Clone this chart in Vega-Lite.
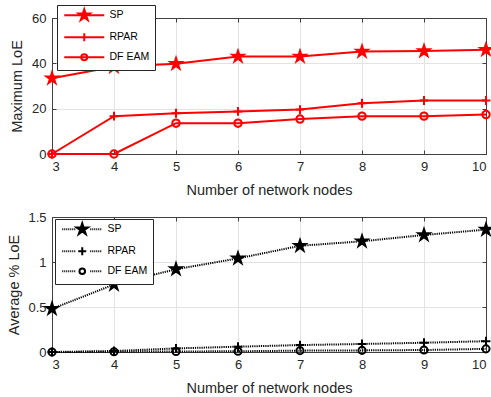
{
  "$schema": "https://vega.github.io/schema/vega-lite/v6.json",
  "padding": {"left": 6, "top": 4, "right": 5, "bottom": 0},
  "spacing": 14,
  "datasets": {
    "d": [
      {"n": 3, "series": "SP", "maxloe": 33.4, "avgloe": 0.48},
      {"n": 4, "series": "SP", "maxloe": 38.5, "avgloe": 0.75},
      {"n": 5, "series": "SP", "maxloe": 39.8, "avgloe": 0.92},
      {"n": 6, "series": "SP", "maxloe": 43.0, "avgloe": 1.04},
      {"n": 7, "series": "SP", "maxloe": 43.0, "avgloe": 1.18},
      {"n": 8, "series": "SP", "maxloe": 45.2, "avgloe": 1.23},
      {"n": 9, "series": "SP", "maxloe": 45.4, "avgloe": 1.30},
      {"n": 10, "series": "SP", "maxloe": 46.0, "avgloe": 1.36},
      {"n": 3, "series": "RPAR", "maxloe": 0, "avgloe": 0},
      {"n": 4, "series": "RPAR", "maxloe": 16.7, "avgloe": 0.011},
      {"n": 5, "series": "RPAR", "maxloe": 18.0, "avgloe": 0.04},
      {"n": 6, "series": "RPAR", "maxloe": 18.8, "avgloe": 0.059},
      {"n": 7, "series": "RPAR", "maxloe": 19.6, "avgloe": 0.077},
      {"n": 8, "series": "RPAR", "maxloe": 22.4, "avgloe": 0.089},
      {"n": 9, "series": "RPAR", "maxloe": 23.6, "avgloe": 0.103},
      {"n": 10, "series": "RPAR", "maxloe": 23.6, "avgloe": 0.12},
      {"n": 3, "series": "DF EAM", "maxloe": 0, "avgloe": 0},
      {"n": 4, "series": "DF EAM", "maxloe": 0, "avgloe": 0.003},
      {"n": 5, "series": "DF EAM", "maxloe": 13.6, "avgloe": 0.006},
      {"n": 6, "series": "DF EAM", "maxloe": 13.6, "avgloe": 0.008},
      {"n": 7, "series": "DF EAM", "maxloe": 15.4, "avgloe": 0.015},
      {"n": 8, "series": "DF EAM", "maxloe": 16.7, "avgloe": 0.018},
      {"n": 9, "series": "DF EAM", "maxloe": 16.7, "avgloe": 0.022},
      {"n": 10, "series": "DF EAM", "maxloe": 17.4, "avgloe": 0.035}
    ]
  },
  "config": {
    "font": "Liberation Sans",
    "view": {"stroke": null},
    "axis": {
      "labelFont": "Liberation Sans",
      "labelFontSize": 13,
      "labelColor": "#262626",
      "titleFont": "Liberation Sans",
      "titleFontSize": 14.5,
      "titleFontWeight": "normal",
      "titleColor": "#262626",
      "domainColor": "#404040",
      "tickColor": "#404040",
      "tickSize": -4,
      "gridColor": "#e3e3e3",
      "gridWidth": 1
    },
    "legend": {
      "labelFont": "Liberation Sans",
      "labelFontSize": 10.5,
      "labelColor": "#000000",
      "strokeColor": "#262626",
      "fillColor": "#ffffff",
      "padding": 5,
      "symbolSize": 64,
      "symbolOffset": 17,
      "labelOffset": 20,
      "rowPadding": 4,
      "symbolStrokeWidth": 2,
      "symbolOpacity": 1
    }
  },
  "resolve": {"scale": {"shape": "independent", "fill": "independent"}, "legend": {"shape": "independent", "fill": "independent"}},
  "vconcat": [
    {
      "width": 434,
      "height": 136,
      "data": {"name": "d"},
      "layer": [
        {
          "mark": {"type": "line", "color": "#ff0000", "strokeWidth": 2},
          "encoding": {
            "x": {"field": "n", "type": "quantitative", "scale": {"domain": [3, 10], "nice": false},
                  "axis": {"orient": "bottom", "values": [3, 4, 5, 6, 7, 8, 9, 10], "format": "d", "title": "Number of network nodes", "grid": true, "labelPadding": 10, "titlePadding": 10}},
            "y": {"field": "maxloe", "type": "quantitative", "scale": {"domain": [0, 60], "nice": false},
                  "axis": {"orient": "left", "values": [0, 20, 40, 60], "format": "d", "title": "Maximum LoE", "grid": true, "labelPadding": 10, "titlePadding": 7}},
            "detail": {"field": "series"}
          }
        },
        {
          "mark": {"type": "point", "stroke": "#ff0000", "strokeWidth": 2, "size": 140, "opacity": 1},
          "encoding": {
            "x": {"field": "n", "type": "quantitative",
                  "axis": {"orient": "top", "values": [3, 4, 5, 6, 7, 8, 9, 10], "labels": false, "title": null, "grid": false}},
            "y": {"field": "maxloe", "type": "quantitative",
                  "axis": {"orient": "right", "values": [0, 20, 40, 60], "labels": false, "title": null, "grid": false}},
            "fill": {"field": "series", "type": "nominal", "scale": {"domain": ["SP", "RPAR", "DF EAM"], "range": ["#ff0000", "transparent", "transparent"]}, "legend": null},
            "shape": {"field": "series", "type": "nominal",
                      "scale": {"domain": ["SP", "RPAR", "DF EAM"],
                                "range": ["M0,-1L0.2245,-0.309L0.951,-0.309L0.363,0.118L0.588,0.809L0,0.382L-0.588,0.809L-0.363,0.118L-0.951,-0.309L-0.2245,-0.309Z",
                                          "M-0.75,0L0.75,0M0,-0.75L0,0.75",
                                          "M0.63,0A0.63,0.63,0,1,1,-0.63,0A0.63,0.63,0,1,1,0.63,0Z"]},
                      "legend": null}
          }
        },
        {
          "mark": {"type": "point", "stroke": "#ff0000", "strokeWidth": 2, "size": 64, "opacity": 0},
          "encoding": {
            "x": {"field": "n", "type": "quantitative", "axis": null},
            "y": {"field": "maxloe", "type": "quantitative", "axis": null},
            "fill": {"field": "series", "type": "nominal", "scale": {"domain": ["SP", "RPAR", "DF EAM"], "range": ["#ff0000", "transparent", "transparent"]},
                     "legend": {"title": null, "orient": "none", "legendX": 5, "legendY": -13}},
            "shape": {"field": "series", "type": "nominal",
                      "scale": {"domain": ["SP", "RPAR", "DF EAM"],
                                "range": ["M-5,0L5,0M0,-1.5L0.337,-0.464L1.427,-0.464L0.545,0.177L0.882,1.214L0,0.573L-0.882,1.214L-0.545,0.177L-1.427,-0.464L-0.337,-0.464Z",
                                          "M-5,0L5,0M0,-1L0,1",
                                          "M-5,0L5,0M0.75,0A0.75,0.75,0,1,1,-0.75,0A0.75,0.75,0,1,1,0.75,0Z"]},
                      "legend": {"title": null, "orient": "none", "legendX": 5, "legendY": -13}}
          }
        }
      ],
      "resolve": {"axis": {"x": "independent", "y": "independent"}, "scale": {"shape": "independent", "fill": "independent"}}
    },
    {
      "width": 434,
      "height": 135,
      "data": {"name": "d"},
      "layer": [
        {
          "mark": {"type": "line", "color": "#000000", "strokeWidth": 2, "strokeDash": [1.2, 1]},
          "encoding": {
            "x": {"field": "n", "type": "quantitative", "scale": {"domain": [3, 10], "nice": false},
                  "axis": {"orient": "bottom", "values": [3, 4, 5, 6, 7, 8, 9, 10], "format": "d", "title": "Number of network nodes", "grid": true, "labelPadding": 10, "titlePadding": 10}},
            "y": {"field": "avgloe", "type": "quantitative", "scale": {"domain": [0, 1.5], "nice": false},
                  "axis": {"orient": "left", "values": [0, 0.5, 1, 1.5], "format": "~g", "title": "Average % LoE", "grid": true, "labelPadding": 10, "titlePadding": 6}},
            "detail": {"field": "series"}
          }
        },
        {
          "mark": {"type": "point", "stroke": "#000000", "strokeWidth": 2, "size": 140, "opacity": 1},
          "encoding": {
            "x": {"field": "n", "type": "quantitative",
                  "axis": {"orient": "top", "values": [3, 4, 5, 6, 7, 8, 9, 10], "labels": false, "title": null, "grid": false}},
            "y": {"field": "avgloe", "type": "quantitative",
                  "axis": {"orient": "right", "values": [0, 0.5, 1, 1.5], "labels": false, "title": null, "grid": false}},
            "fill": {"field": "series", "type": "nominal", "scale": {"domain": ["SP", "RPAR", "DF EAM"], "range": ["#000000", "transparent", "transparent"]}, "legend": null},
            "shape": {"field": "series", "type": "nominal",
                      "scale": {"domain": ["SP", "RPAR", "DF EAM"],
                                "range": ["M0,-1L0.2245,-0.309L0.951,-0.309L0.363,0.118L0.588,0.809L0,0.382L-0.588,0.809L-0.363,0.118L-0.951,-0.309L-0.2245,-0.309Z",
                                          "M-0.75,0L0.75,0M0,-0.75L0,0.75",
                                          "M0.6,0A0.6,0.6,0,1,1,-0.6,0A0.6,0.6,0,1,1,0.6,0Z"]},
                      "legend": null}
          }
        },
        {
          "mark": {"type": "point", "stroke": "#000000", "strokeWidth": 2, "size": 64, "opacity": 0},
          "encoding": {
            "x": {"field": "n", "type": "quantitative", "axis": null},
            "y": {"field": "avgloe", "type": "quantitative", "axis": null},
            "fill": {"field": "series", "type": "nominal", "scale": {"domain": ["SP", "RPAR", "DF EAM"], "range": ["#000000", "transparent", "transparent"]},
                     "legend": {"title": null, "orient": "none", "legendX": 3, "legendY": 2}},
            "shape": {"field": "series", "type": "nominal",
                      "scale": {"domain": ["SP", "RPAR", "DF EAM"],
                                "range": ["M-5,0h0.25M-4.5,0h0.25M-4,0h0.25M-3.5,0h0.25M-3,0h0.25M-2.5,0h0.25M-2,0h0.25M2,0h0.25M2.5,0h0.25M3,0h0.25M3.5,0h0.25M4,0h0.25M4.5,0h0.25M0,-1.5L0.337,-0.464L1.427,-0.464L0.545,0.177L0.882,1.214L0,0.573L-0.882,1.214L-0.545,0.177L-1.427,-0.464L-0.337,-0.464Z",
                                          "M-5,0h0.25M-4.5,0h0.25M-4,0h0.25M-3.5,0h0.25M-3,0h0.25M-2.5,0h0.25M-2,0h0.25M2,0h0.25M2.5,0h0.25M3,0h0.25M3.5,0h0.25M4,0h0.25M4.5,0h0.25M0,-1L0,1M-1,0L1,0",
                                          "M-5,0h0.25M-4.5,0h0.25M-4,0h0.25M-3.5,0h0.25M-3,0h0.25M-2.5,0h0.25M-2,0h0.25M2,0h0.25M2.5,0h0.25M3,0h0.25M3.5,0h0.25M4,0h0.25M4.5,0h0.25M0.7,0A0.7,0.7,0,1,1,-0.7,0A0.7,0.7,0,1,1,0.7,0Z"]},
                      "legend": {"title": null, "orient": "none", "legendX": 3, "legendY": 2}}
          }
        }
      ],
      "resolve": {"axis": {"x": "independent", "y": "independent"}, "scale": {"shape": "independent", "fill": "independent"}}
    }
  ]
}
